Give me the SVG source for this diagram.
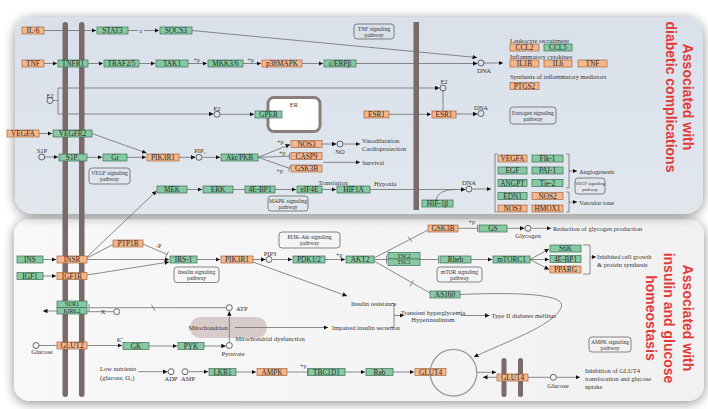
<svg xmlns="http://www.w3.org/2000/svg" width="708" height="409" viewBox="0 0 708 409">
<defs>
<style>
.g{fill:#86c9a2;stroke:#3d6e55;stroke-width:0.7}
.o{fill:#f4b68a;stroke:#a8683f;stroke-width:0.7}
.t{font-family:"Liberation Serif",serif;font-size:7.3px;fill:#2a2a2a;text-anchor:middle;dominant-baseline:central}
.ts{font-size:5.8px}
.l{font-family:"Liberation Serif",serif;font-size:6.5px;fill:#333;dominant-baseline:central}
.lm{font-family:"Liberation Serif",serif;font-size:6.5px;fill:#333;dominant-baseline:central;text-anchor:middle}
.pw{fill:none;stroke:#555;stroke-width:0.7}
.pt{font-family:"Liberation Serif",serif;font-size:5.6px;fill:#333;text-anchor:middle}
.c{stroke:#666;stroke-width:0.75;fill:none}
.ca{stroke:#666;stroke-width:0.75;fill:none;marker-end:url(#a)}
.cir{fill:none;stroke:#444;stroke-width:0.8}
.bar{fill:#7a6a68}
.red{font-family:"Liberation Sans",Arial,sans-serif;font-size:14px;font-weight:bold;fill:#e23a3a;text-anchor:middle}
</style>
<marker id="a" viewBox="0 0 6 6" refX="6" refY="3" markerWidth="4.5" markerHeight="4.5" orient="auto" markerUnits="userSpaceOnUse"><path d="M0,0L6,3L0,6z" fill="#111"/></marker>
<filter id="sh" x="-10%" y="-15%" width="120%" height="130%"><feGaussianBlur in="SourceAlpha" stdDeviation="6"/><feOffset dy="2"/><feComponentTransfer><feFuncA type="linear" slope="0.45"/></feComponentTransfer><feMerge><feMergeNode/><feMergeNode in="SourceGraphic"/></feMerge></filter>
<linearGradient id="ug" x1="0" y1="0" x2="0" y2="1"><stop offset="0" stop-color="#d9e0ea"/><stop offset="1" stop-color="#e2e7ee"/></linearGradient>
<linearGradient id="lg" x1="0" y1="0" x2="1" y2="0"><stop offset="0" stop-color="#f8f8f8"/><stop offset="1" stop-color="#f1f1f1"/></linearGradient>
</defs>
<rect width="708" height="409" fill="#ffffff"/>
<g id="panels">
<rect x="14" y="219" width="690" height="182" rx="16" fill="url(#lg)" filter="url(#sh)"/>
<rect x="15" y="17" width="688" height="197" rx="18" fill="url(#ug)" filter="url(#sh)"/>
</g>
<g id="compartments">
<rect x="268" y="97.5" width="52" height="34" rx="6" fill="#ffffff" stroke="#8a7f7d" stroke-width="3"/>
<text class="lm" x="294" y="104">ER</text>
<rect x="190" y="317" width="77" height="21" rx="10.5" fill="#d8cccb"/>
<text class="lm" x="208" y="327.5">Mitochondrion</text>
<circle cx="453.5" cy="372.7" r="23.3" fill="none" stroke="#a09a99" stroke-width="1.3"/>
</g>
<g id="connectors">
<path class="ca" d="M44,30.5H96"/>
<path class="c" d="M128,30.5H138"/><path class="ca" d="M144,30.5H159"/>
<path class="ca" d="M192,30.5L477,57.5"/>
<path class="ca" d="M44,63.5H57"/>
<path class="ca" d="M88,63.5H103"/>
<path class="ca" d="M139,63.5H155"/>
<path class="ca" d="M188,63.5H207"/>
<path class="ca" d="M243,63.5H261"/>
<path class="ca" d="M302,63.5H323"/>
<path class="ca" d="M356,63.5H477.5"/>
<path class="ca" d="M484,63H503"/>
<path class="c" d="M53,100.5H58M58,88V114"/>
<path class="ca" d="M58,88H439.5"/>
<path class="ca" d="M58,114H213.5"/>
<path class="ca" d="M220,114.3H254"/>
<path class="c" d="M443,91V111"/>
<path class="ca" d="M389,114.3H431"/>
<path class="ca" d="M456,114H477.5"/>
<path class="ca" d="M39,133.5H52"/>
<path class="ca" d="M92,133.5L146.5,153"/>
<path class="ca" d="M45,157H58"/>
<path class="ca" d="M87,157.3H102"/>
<path class="ca" d="M127,157.3H146"/>
<path class="ca" d="M179,157.3H195.5"/>
<path class="ca" d="M202.5,157.3H220"/>
<path class="ca" d="M258,157.3L290,144.5"/>
<path class="c" d="M258,157.3L289.5,156.2M289.5,153V159.4"/>
<path class="c" d="M258,157.3L289.5,168.3M290.5,165.3L288.5,171.3"/>
<path class="ca" d="M322,144H336.5"/>
<path class="ca" d="M343.5,144H360"/>
<path class="ca" d="M323,162.3H360"/>
<path class="ca" d="M187,189.5H202"/>
<path class="c" d="M233,189.5H245"/>
<path class="ca" d="M275,189.5H296"/>
<path class="ca" d="M322,189.5H336"/>
<path class="ca" d="M370,189.5H465.5"/>
<path class="c" d="M436,200Q438,189.5 455,189.5"/>
<path class="ca" d="M472.5,189H491"/>
<path class="c" d="M497.5,154H495V212H497.5"/>
<path class="c" d="M566,154H569V188H566M566,192H569V212H566"/>
<path class="ca" d="M569,171H577"/>
<path class="ca" d="M569,202H577"/>
<path class="ca" d="M43,259.5H56"/>
<path class="ca" d="M87,259.5H169"/>
<path class="ca" d="M87,257L156.5,191"/>
<path class="c" d="M87,258L113,244.5"/>
<path class="c" d="M143,244L167,254.5M165.5,257.5L168.5,251.5"/>
<path class="ca" d="M43,276H56"/>
<path class="ca" d="M87,275L169,262"/>
<path class="ca" d="M197,259.5H220"/>
<path class="ca" d="M253,259.5H265.5"/>
<path class="ca" d="M272.5,259.5H292"/>
<path class="ca" d="M325,259.5H345"/>
<path class="ca" d="M253,262L347,296"/>
<path class="c" d="M374,258L428,230M408,236.5L412,242"/>
<path class="c" d="M374,259.5H386.5M386.5,255.5V263.5"/>
<path class="c" d="M374,261L430,293M410,286.5L413.5,280.5"/>
<path class="c" d="M420,259.5H438.5M438.5,255.5V263.5"/>
<path class="ca" d="M471,259.5H492"/>
<path class="ca" d="M530,259.5L549,249"/>
<path class="ca" d="M530,259.5H549"/>
<path class="ca" d="M530,259.5L549,269.5"/>
<path class="c" d="M583,245H590V274H583"/>
<path class="ca" d="M590,257H596"/>
<path class="c" d="M458,228.3H477.5M477.5,224.5V232"/>
<path class="ca" d="M507,228.3H524.5"/>
<path class="ca" d="M531.5,228.3H551"/>
<path class="c" d="M226,307.7H89M89,304V311.4M151.5,304.5L155,311"/>
<path class="ca" d="M57,311H43"/>
<path class="c" d="M87,311.7H113.5"/>
<path class="c" d="M39,345.5H57"/>
<path class="ca" d="M87,345.5H122"/>
<path class="ca" d="M149,346H177"/>
<path class="ca" d="M204,346H225.8"/>
<path class="ca" d="M229.3,342.3V311.3"/>
<path class="ca" d="M235,327.5H328"/>
<path class="c" d="M391,303.5H394V327.5H391"/>
<path class="ca" d="M394,315.5H404"/>
<path class="ca" d="M461,315.5H489.5"/>
<path class="ca" d="M138,371.7H167.5"/>
<path class="ca" d="M188.5,371.7H208"/>
<path class="ca" d="M236,372H256"/>
<path class="c" d="M287,372H307.5M307.5,368V376"/>
<path class="ca" d="M345,372H365"/>
<path class="ca" d="M393,372H414"/>
<path class="ca" d="M460,294.5C520,292 568,294 561,308C553,326 505,342 474,357"/>
<path class="ca" d="M477,372.3H496"/>
<path class="ca" d="M497,377.3H483"/>
<path class="c" d="M528,377.3H550"/>
<path class="ca" d="M556.5,377.3H580"/>
</g>
<g id="membranes">
<rect class="bar" x="62.5" y="22" width="5.5" height="375" rx="2.7"/>
<rect class="bar" x="79" y="22" width="5.5" height="375" rx="2.7"/>
<rect class="bar" x="413.5" y="22" width="5.5" height="188"/>
<rect class="bar" x="501.5" y="358" width="5" height="39" rx="2.5"/>
<rect class="bar" x="518" y="358" width="5" height="39" rx="2.5"/>
</g>
<g id="small-molecules">
<circle class="cir" cx="481" cy="63" r="3"/>
<circle class="cir" cx="50" cy="100.5" r="3"/>
<circle class="cir" cx="217" cy="114.3" r="3"/>
<circle class="cir" cx="443" cy="88" r="3"/>
<circle class="cir" cx="481" cy="113.5" r="3"/>
<circle class="cir" cx="41.7" cy="157" r="3"/>
<circle class="cir" cx="199" cy="157.3" r="3"/>
<circle class="cir" cx="340" cy="144" r="3"/>
<circle class="cir" cx="469" cy="189" r="3"/>
<circle class="cir" cx="269" cy="259.5" r="3"/>
<circle class="cir" cx="528" cy="228.3" r="3"/>
<circle class="cir" cx="229.3" cy="307.7" r="3"/>
<circle class="cir" cx="116.7" cy="311.7" r="3"/>
<circle class="cir" cx="36" cy="345.5" r="3"/>
<circle class="cir" cx="229.3" cy="345.5" r="3"/>
<circle class="cir" cx="171" cy="371.7" r="3"/>
<circle class="cir" cx="185" cy="371.7" r="3"/>
<circle class="cir" cx="553.3" cy="377.3" r="3"/>
</g>
<g id="nodes">
<g id="n-il6"><rect class="o" x="22" y="27" width="22" height="7"/><text class="t" x="33" y="30.5">IL-6</text></g>
<g id="n-stat3"><rect class="g" x="97" y="27" width="31" height="7"/><text class="t" x="112.5" y="30.5">STAT3</text></g>
<g id="n-socs3"><rect class="g" x="160" y="27" width="32" height="7"/><text class="t" x="176" y="30.5">SOCS3</text></g>
<g id="n-tnf"><rect class="o" x="22" y="60" width="22" height="7"/><text class="t" x="33" y="63.5">TNF</text></g>
<g id="n-tnfr1"><rect class="g" x="58" y="60" width="30" height="7"/><text class="t" x="73" y="63.5">TNFR1</text></g>
<g id="n-traf"><rect class="g" x="104" y="60" width="35" height="7"/><text class="t" x="121.5" y="63.5">TRAF2/5</text></g>
<g id="n-tak1"><rect class="g" x="156" y="60" width="32" height="7"/><text class="t" x="172" y="63.5">TAK1</text></g>
<g id="n-mkk"><rect class="g" x="208" y="60" width="35" height="7"/><text class="t" x="225.5" y="63.5">MKK3/6</text></g>
<g id="n-p38"><rect class="o" x="262" y="60" width="40" height="7"/><text class="t" x="282" y="63.5">p38MAPK</text></g>
<g id="n-cebpb"><rect class="g" x="324" y="60" width="32" height="7"/><text class="t" x="340" y="63.5">c/EBPβ</text></g>
<g id="n-ccl2"><rect class="o" x="510" y="44" width="29" height="7"/><text class="t" x="524.5" y="47.5">CCL2</text></g>
<g id="n-ccl5"><rect class="g" x="544" y="44" width="28" height="7"/><text class="t" x="558" y="47.5">CCL5</text></g>
<g id="n-il1b"><rect class="o" x="510" y="60" width="29" height="7"/><text class="t" x="524.5" y="63.5">IL1B</text></g>
<g id="n-il6b"><rect class="o" x="544" y="60" width="28" height="7"/><text class="t" x="558" y="63.5">IL6</text></g>
<g id="n-tnfb"><rect class="o" x="578" y="60" width="29" height="7"/><text class="t" x="592.5" y="63.5">TNF</text></g>
<g id="n-ptgs2"><rect class="o" x="510" y="82.5" width="29" height="7"/><text class="t" x="524.5" y="86">PTGS2</text></g>
<g id="n-gper"><rect class="g" x="255" y="111" width="27" height="7"/><text class="t" x="268.5" y="114.5">GPER</text></g>
<g id="n-esr1a"><rect class="o" x="364" y="111" width="25" height="7"/><text class="t" x="376.5" y="114.5">ESR1</text></g>
<g id="n-esr1b"><rect class="o" x="432" y="111" width="24" height="7"/><text class="t" x="444" y="114.5">ESR1</text></g>
<g id="n-vegfa"><rect class="o" x="7" y="130" width="32" height="7"/><text class="t" x="23" y="133.5">VEGFA</text></g>
<g id="n-vegfr2"><rect class="g" x="53" y="130" width="39" height="7"/><text class="t" x="72.5" y="133.5">VEGFR2</text></g>
<g id="n-s1p1"><rect class="g" x="59" y="154" width="28" height="7"/><text class="t" x="73" y="157.5">S1P₁</text></g>
<g id="n-gi"><rect class="g" x="103" y="154" width="24" height="7"/><text class="t" x="115" y="157.5">Gi</text></g>
<g id="n-pik3r1a"><rect class="o" x="147" y="154" width="32" height="7"/><text class="t" x="163" y="157.5">PIK3R1</text></g>
<g id="n-akt"><rect class="g" x="221" y="154" width="37" height="7"/><text class="t" x="239.5" y="157.5">Akt/PKB</text></g>
<g id="n-nos3a"><rect class="o" x="291" y="140.5" width="31" height="7"/><text class="t" x="306.5" y="144">NOS3</text></g>
<g id="n-casp9"><rect class="o" x="291" y="152.5" width="31" height="7"/><text class="t" x="306.5" y="156">CASP9</text></g>
<g id="n-gsk3ba"><rect class="o" x="291" y="165" width="31" height="7"/><text class="t" x="306.5" y="168.5">GSK3B</text></g>
<g id="n-mek"><rect class="g" x="157" y="186" width="30" height="7"/><text class="t" x="172" y="189.5">MEK</text></g>
<g id="n-erk"><rect class="g" x="203" y="186" width="30" height="7"/><text class="t" x="218" y="189.5">ERK</text></g>
<g id="n-4ebp1a"><rect class="g" x="245" y="186" width="30" height="7"/><text class="t" x="260" y="189.5">4E-BP1</text></g>
<g id="n-eif4e"><rect class="g" x="297" y="186" width="25" height="7"/><text class="t" x="309.5" y="189.5">eIF4E</text></g>
<g id="n-hif1a"><rect class="g" x="337" y="186" width="33" height="7"/><text class="t" x="353.5" y="189.5">HIF1A</text></g>
<g id="n-hif1b"><rect class="g" x="422" y="200" width="31" height="7"/><text class="t" x="437.5" y="203.5">HIF-1β</text></g>
<g id="n-vegfa2"><rect class="o" x="498" y="155" width="29" height="7"/><text class="t" x="512.5" y="158.5">VEGFA</text></g>
<g id="n-flk1"><rect class="g" x="532" y="155" width="31" height="7"/><text class="t" x="547.5" y="158.5">Flk-1</text></g>
<g id="n-egf"><rect class="g" x="498" y="167" width="29" height="7"/><text class="t" x="512.5" y="170.5">EGF</text></g>
<g id="n-pai1"><rect class="g" x="532" y="167" width="31" height="7"/><text class="t" x="547.5" y="170.5">PAI-1</text></g>
<g id="n-angpt"><rect class="g" x="498" y="179.5" width="29" height="7"/><text class="t" x="512.5" y="183">ANGPT</text></g>
<g id="n-tie2"><rect class="g" x="532" y="179.5" width="31" height="7"/><text class="t" x="547.5" y="183">Tie-2</text></g>
<g id="n-edn1"><rect class="g" x="498" y="192.5" width="29" height="7"/><text class="t" x="512.5" y="196">EDN1</text></g>
<g id="n-nos2"><rect class="o" x="532" y="192.5" width="31" height="7"/><text class="t" x="547.5" y="196">NOS2</text></g>
<g id="n-nos3b"><rect class="o" x="498" y="205" width="29" height="7"/><text class="t" x="512.5" y="208.5">NOS3</text></g>
<g id="n-hmox1"><rect class="o" x="532" y="205" width="31" height="7"/><text class="t" x="547.5" y="208.5">HMOX1</text></g>
<g id="n-ins"><rect class="g" x="17" y="256" width="26" height="7"/><text class="t" x="30" y="259.5">INS</text></g>
<g id="n-insr"><rect class="o" x="57" y="256" width="30" height="7"/><text class="t" x="72" y="259.5">INSR</text></g>
<g id="n-ptp1b"><rect class="o" x="113" y="240" width="30" height="7"/><text class="t" x="128" y="243.5">PTP1B</text></g>
<g id="n-irs1"><rect class="g" x="170" y="256" width="27" height="7"/><text class="t" x="183.5" y="259.5">IRS-1</text></g>
<g id="n-igf1"><rect class="g" x="17" y="272.5" width="26" height="7"/><text class="t" x="30" y="276">IGF1</text></g>
<g id="n-igf1r"><rect class="o" x="57" y="272.5" width="30" height="7"/><text class="t" x="72" y="276">IGF1R</text></g>
<g id="n-pik3r1b"><rect class="o" x="221" y="256" width="32" height="7"/><text class="t" x="237" y="259.5">PIK3R1</text></g>
<g id="n-pdk"><rect class="g" x="293" y="256" width="32" height="7"/><text class="t" x="309" y="259.5">PDK1/2</text></g>
<g id="n-akt2"><rect class="g" x="346" y="256" width="28" height="7"/><text class="t" x="360" y="259.5">AKT2</text></g>
<g id="n-gsk3bb"><rect class="o" x="428" y="225" width="30" height="7"/><text class="t" x="443" y="228.5">GSK3B</text></g>
<g id="n-gs"><rect class="g" x="479" y="225" width="28" height="7"/><text class="t" x="493" y="228.5">GS</text></g>
<g id="n-tsc"><rect class="g" x="388" y="252.5" width="32" height="6.5"/><text class="t ts" x="404" y="255.8">TSC2</text><rect class="g" x="388" y="259" width="32" height="6.5"/><text class="t ts" x="404" y="262.4">TSC1</text></g>
<g id="n-rheb"><rect class="g" x="440" y="256" width="31" height="7"/><text class="t" x="455.5" y="259.5">Rheb</text></g>
<g id="n-mtorc1"><rect class="g" x="493" y="256" width="37" height="7"/><text class="t" x="511.5" y="259.5">mTORC1</text></g>
<g id="n-s6k"><rect class="g" x="550" y="245" width="31" height="7"/><text class="t" x="565.5" y="248.5">S6K</text></g>
<g id="n-4ebp1b"><rect class="g" x="550" y="255.5" width="31" height="7"/><text class="t" x="565.5" y="259">4E-BP1</text></g>
<g id="n-pparg"><rect class="o" x="550" y="266" width="31" height="7"/><text class="t" x="565.5" y="269.5">PPARG</text></g>
<g id="n-as160"><rect class="g" x="430" y="291" width="30" height="7"/><text class="t" x="445" y="294.5">AS160</text></g>
<g id="n-katp"><rect class="g" x="57" y="301" width="30" height="6.5"/><text class="t ts" x="72" y="304.2">SUR1</text><rect class="g" x="57" y="307.5" width="30" height="6.5"/><text class="t ts" x="72" y="310.9">KIR6.2</text></g>
<g id="n-glut2"><rect class="o" x="57" y="342" width="30" height="7"/><text class="t" x="72" y="345.5">GLUT2</text></g>
<g id="n-gk"><rect class="g" x="123" y="342.5" width="26" height="7"/><text class="t" x="136" y="346">GK</text></g>
<g id="n-pyk"><rect class="g" x="178" y="342.5" width="26" height="7"/><text class="t" x="191" y="346">PYK</text></g>
<g id="n-lkb1"><rect class="g" x="209" y="368.5" width="27" height="7"/><text class="t" x="222.5" y="372">LKB1</text></g>
<g id="n-ampk"><rect class="o" x="257" y="368.5" width="30" height="7"/><text class="t" x="272" y="372">AMPK</text></g>
<g id="n-tbc1d1"><rect class="g" x="308" y="368.5" width="37" height="7"/><text class="t" x="326.5" y="372">TBC1D1</text></g>
<g id="n-rab"><rect class="g" x="366" y="368.5" width="27" height="7"/><text class="t" x="379.5" y="372">Rab</text></g>
<g id="n-glut4a"><rect class="o" x="415" y="368.5" width="31" height="7"/><text class="t" x="430.5" y="372">GLUT4</text></g>
<g id="n-glut4b"><rect class="o" x="497" y="374" width="31" height="7"/><text class="t" x="512.5" y="377.5">GLUT4</text></g>
</g>
<g id="pathways">
<rect class="pw" x="354" y="24" width="40" height="15" rx="3"/><text class="pt" x="374" y="30.5">TNF signaling</text><text class="pt" x="374" y="36.5">pathway</text>
<rect class="pw" x="510" y="107" width="46" height="17" rx="3"/><text class="pt" x="533" y="114.5">Estrogen signaling</text><text class="pt" x="533" y="120.5">pathway</text>
<rect class="pw" x="89" y="168" width="41" height="16" rx="3"/><text class="pt" x="109.5" y="175">VEGF signaling</text><text class="pt" x="109.5" y="181">pathway</text>
<rect class="pw" x="268" y="196" width="40" height="15" rx="3"/><text class="pt" x="288" y="202.5">MAPK signaling</text><text class="pt" x="288" y="208.5">pathway</text>
<rect class="pw" x="575" y="178" width="30" height="16" rx="3"/><text class="pt" x="590" y="185" style="font-size:4.6px">VEGF signaling</text><text class="pt" x="590" y="191" style="font-size:4.6px">pathway</text>
<rect class="pw" x="279" y="232" width="61" height="16" rx="3"/><text class="pt" x="309.5" y="239">PI3K-Akt signaling</text><text class="pt" x="309.5" y="245">pathway</text>
<rect class="pw" x="174" y="267" width="45" height="15.5" rx="3"/><text class="pt" x="196.5" y="274">Insulin signaling</text><text class="pt" x="196.5" y="280">pathway</text>
<rect class="pw" x="437" y="267" width="45" height="15" rx="3"/><text class="pt" x="459.5" y="273.5">mTOR signaling</text><text class="pt" x="459.5" y="279.5">pathway</text>
<rect class="pw" x="589" y="337" width="42" height="15" rx="3"/><text class="pt" x="610" y="343.5">AMPK signaling</text><text class="pt" x="610" y="349.5">pathway</text>
</g>
<g id="labels">
<text class="lm" x="141" y="30.3">c</text>
<text class="l" x="193.5" y="60" style="font-size:6px">+p</text>
<text class="l" x="247.5" y="60" style="font-size:6px">+p</text>
<text class="lm" x="484" y="70.8">DNA</text>
<text class="l" x="510" y="40.5">Leukocyte recruitment</text>
<text class="l" x="510" y="56.5">Inflammatory cytokines</text>
<text class="l" x="510" y="76">Synthesis of inflammatory mediators</text>
<text class="lm" x="50" y="95">E2</text>
<text class="lm" x="217" y="108.5">E2</text>
<text class="lm" x="444" y="81.5">E2</text>
<text class="lm" x="481" y="107">DNA</text>
<text class="lm" x="42" y="150.5">S1P</text>
<text class="lm" x="200" y="150.5">PIP₃</text>
<text class="l" x="277" y="141.5" style="font-size:6px">+p</text>
<text class="l" x="279" y="152.5" style="font-size:6px">+p</text>
<text class="l" x="276.5" y="171" style="font-size:6px">+p</text>
<text class="lm" x="340" y="151">NO</text>
<text class="l" x="362" y="140">Vasodilatation</text>
<text class="l" x="362" y="148">Cardioprotection</text>
<text class="l" x="362" y="162.5">Survival</text>
<text class="lm" x="333" y="182">Translation</text>
<text class="l" x="374" y="183">Hypoxia</text>
<text class="lm" x="469" y="182.5">DNA</text>
<text class="l" x="579" y="171">Angiogenesis</text>
<text class="l" x="579" y="202">Vascular tone</text>
<text class="l" x="156" y="245.5" style="font-size:6px">-P</text>
<text class="lm" x="270" y="253">PIP3</text>
<text class="l" x="336" y="254.5" style="font-size:6px">+p</text>
<text class="l" x="468.5" y="222" style="font-size:6px">+p</text>
<text class="lm" x="528" y="235.5">Glycogen</text>
<text class="l" x="553" y="228.5">Reduction of glycogen production</text>
<text class="l" x="597" y="256">Inhibited cell growth</text>
<text class="l" x="597" y="264.5">&amp; protein synthesis</text>
<text class="l" x="236" y="308">ATP</text>
<text class="lm" x="103" y="311.7">X</text>
<text class="lm" x="270" y="338.5">Mitochondrial dysfunction</text>
<text class="l" x="351" y="303.5">Insulin resistance</text>
<text class="l" x="332" y="327.5">Impaired insulin secretion</text>
<text class="lm" x="433" y="312.5">Transient hyperglycemia</text>
<text class="lm" x="433" y="319.5">Hyperinsulinism</text>
<text class="l" x="491.5" y="315.5">Type II diabetes mellitus</text>
<text class="lm" x="42" y="351">Glucose</text>
<text class="lm" x="120" y="339.5">K⁺</text>
<text class="lm" x="233" y="353">Pyruvate</text>
<text class="l" x="100" y="368">Low nutrients</text>
<text class="l" x="100" y="377">(glucose, O₂)</text>
<text class="lm" x="171" y="378.5">ADP</text>
<text class="lm" x="188" y="378.5">AMP</text>
<text class="l" x="300" y="366" style="font-size:6px">+p</text>
<text class="lm" x="558" y="385">Glucose</text>
<text class="l" x="585" y="370">Inhibition of GLUT4</text>
<text class="l" x="585" y="378">translocation and glucose</text>
<text class="l" x="585" y="386">uptake</text>
</g>
<g id="side-titles">
<text class="red" transform="translate(683,97) rotate(90)">Associated with</text>
<text class="red" transform="translate(665.5,97) rotate(90)">diabetic complications</text>
<text class="red" transform="translate(682.5,318) rotate(90)">Associated with</text>
<text class="red" transform="translate(664,318) rotate(90)">insulin and glucose</text>
<text class="red" transform="translate(645.5,318) rotate(90)">homeostasis</text>
</g>
</svg>
